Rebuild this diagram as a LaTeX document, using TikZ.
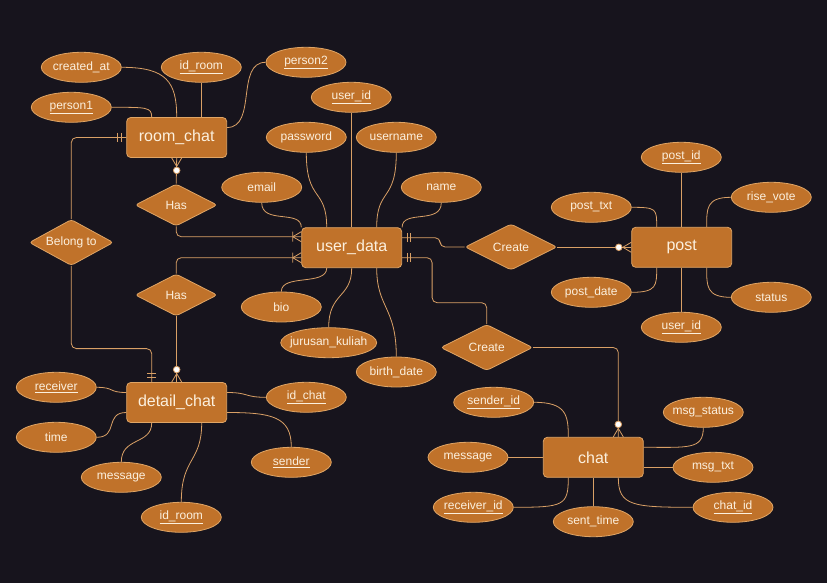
\documentclass[tikz,border=0pt]{standalone}
\usepackage{fontspec}
\setmainfont{Liberation Sans}
\usetikzlibrary{shapes.geometric}
\definecolor{bgc}{HTML}{17141D}
\definecolor{fillc}{HTML}{C0722A}
\definecolor{edgec}{HTML}{E0A565}
\definecolor{linec}{HTML}{D9A066}
\definecolor{txtc}{HTML}{FCF0DE}
\newcommand\zt[1]{\makebox[0pt]{#1}}
\newcommand\uk[1]{\makebox[0pt]{\underline{#1}}}
\begin{document}
\begin{tikzpicture}[x=1pt,y=-1pt,
 entity/.style={rectangle, rounded corners=4pt, draw=edgec, fill=fillc, line width=0.8pt, minimum width=100pt, minimum height=40pt, inner sep=0pt, text=txtc, font=\fontsize{16}{18}\selectfont},
 attr/.style={ellipse, draw=edgec, fill=fillc, line width=0.8pt, minimum width=80pt, minimum height=30pt, inner sep=0pt, text=txtc, font=\fontsize{12}{14}\selectfont},
 relship/.style={diamond, draw=edgec, fill=fillc, line width=0.8pt, minimum width=92pt, minimum height=46pt, inner sep=0pt, rounded corners=3pt, text=txtc, font=\fontsize{12}{14}\selectfont},
 link/.style={draw=linec, line width=0.8pt},
 conn/.style={draw=linec, line width=0.8pt, rounded corners=5pt},
 mone/.pic={\draw[linec,line width=0.8pt] (-5,-4.5)--(-5,4.5) (-8.5,-4.5)--(-8.5,4.5);},
 zmany/.pic={\draw[linec,line width=0.8pt] (-8.5,0)--(0,-5) (-8.5,0)--(0,5);
   \draw[linec,line width=0.8pt,fill=white] (-12.5,0) circle[radius=3.3pt];},
 omany/.pic={\draw[linec,line width=0.8pt] (-8.5,0)--(0,-5) (-8.5,0)--(0,5) (-8.5,-5)--(-8.5,5);},
]
\useasboundingbox (0,0) rectangle (827,583);
\fill[bgc] (0,0) rectangle (827,583);

% entities
\node[entity] (rc) at (176.7,137.5) {room\_chat};
\node[entity] (ud) at (351.7,247.7) {user\_data};
\node[entity] (pt) at (681.7,247.3) {post};
\node[entity] (dc) at (176.7,402.5) {detail\_chat};
\node[entity] (ch) at (593.3,457.3) {chat};

% relationships
\node[relship, minimum width=82pt, minimum height=42pt] (has1) at (176.2,205) {\zt{Has}};
\node[relship, minimum width=82pt, minimum height=42pt] (has2) at (176.2,295) {\zt{Has}};
\node[relship, minimum width=84pt, minimum height=46pt] (bel) at (71.3,242.5) {\zt{Belong to}};
\node[relship] (cr1) at (511,247) {\zt{Create}};
\node[relship] (cr2) at (486.7,347.5) {\zt{Create}};

% room_chat attributes
\node[attr] (ca) at (81.3,67.3) {\zt{created\_at}};
\node[attr] (idr) at (201.3,67.3) {\uk{id\_room}};
\node[attr] (p2) at (306,62.3) {\uk{person2}};
\node[attr] (p1) at (71.3,107.3) {\uk{person1}};

% user_data attributes
\node[attr] (uid) at (351.3,97.3) {\uk{user\_id}};
\node[attr] (pw) at (306.3,137.3) {\zt{password}};
\node[attr] (un) at (396.3,137.3) {\zt{username}};
\node[attr] (em) at (261.7,187.3) {\zt{email}};
\node[attr] (nm) at (441.3,187.3) {\zt{name}};
\node[attr] (bio) at (281.3,307) {\zt{bio}};
\node[attr, minimum width=96pt] (jk) at (328.7,342.7) {\zt{jurusan\_kuliah}};
\node[attr] (bd) at (396.3,372) {\zt{birth\_date}};

% post attributes
\node[attr] (pid) at (681.3,157.3) {\uk{post\_id}};
\node[attr] (rv) at (771.3,197.3) {\zt{rise\_vote}};
\node[attr] (ptx) at (591.3,207.3) {\zt{post\_txt}};
\node[attr] (pd) at (591.3,292.3) {\zt{post\_date}};
\node[attr] (st) at (771.3,297.3) {\zt{status}};
\node[attr] (puid) at (681.3,327.3) {\uk{user\_id}};

% detail_chat attributes
\node[attr] (rcv) at (56.3,387.3) {\uk{receiver}};
\node[attr] (tm) at (56.3,437.3) {\zt{time}};
\node[attr] (dmsg) at (121.3,477.3) {\zt{message}};
\node[attr] (idr2) at (181.3,517.3) {\uk{id\_room}};
\node[attr] (snd) at (291.3,462.3) {\uk{sender}};
\node[attr] (idc) at (306.3,397.3) {\uk{id\_chat}};

% chat attributes
\node[attr] (sid) at (493.7,402.3) {\uk{sender\_id}};
\node[attr] (cmsg) at (468,457.3) {\zt{message}};
\node[attr] (rid) at (473.3,507.3) {\uk{receiver\_id}};
\node[attr] (stm) at (593.3,521.7) {\zt{sent\_time}};
\node[attr] (cid) at (733,507.3) {\uk{chat\_id}};
\node[attr] (mt) at (713,467.3) {\zt{msg\_txt}};
\node[attr] (ms) at (703.3,412.3) {\zt{msg\_status}};

% room_chat links
\draw[link] (ca.east) .. controls +(45,0) and +(0,-35) .. (rc.north);
\draw[link] (idr.south) -- (idr.south |- rc.north);
\draw[link] (p1.east) .. controls +(35,0) and +(0,-10) .. ([xshift=-25pt]rc.north);
\draw[link] (p2.west) .. controls +(-30,0) and +(30,0) .. ([yshift=10pt]rc.east);

% user_data links
\draw[link] (uid.south) -- (uid.south |- ud.north);
\draw[link] (pw.south) .. controls +(0,50) and +(0,-40) .. ([xshift=-25pt]ud.north);
\draw[link] (un.south) .. controls +(0,50) and +(0,-40) .. ([xshift=25pt]ud.north);
\draw[link] (em.south) .. controls +(0,22) and +(0,-18) .. (ud.north west);
\draw[link] (nm.south) .. controls +(0,22) and +(0,-18) .. (ud.north east);
\draw[link] (bio.north) .. controls +(0,-18) and +(0,18) .. ([xshift=-25pt]ud.south);
\draw[link] (jk.north) .. controls +(0,-35) and +(0,30) .. (ud.south);
\draw[link] (bd.north) .. controls +(0,-50) and +(0,40) .. ([xshift=25pt]ud.south);

% post links
\draw[link] (pid.south) -- (pid.south |- pt.north);
\draw[link] (rv.west) .. controls +(-25,0) and +(0,-18) .. ([xshift=25pt]pt.north);
\draw[link] (ptx.east) .. controls +(25,0) and +(0,-18) .. ([xshift=-25pt]pt.north);
\draw[link] (pd.east) .. controls +(25,0) and +(0,18) .. ([xshift=-25pt]pt.south);
\draw[link] (st.west) .. controls +(-25,0) and +(0,18) .. ([xshift=25pt]pt.south);
\draw[link] (puid.north) -- (puid.north |- pt.south);

% detail_chat links
\draw[link] (rcv.east) .. controls +(18,0) and +(-18,0) .. ([yshift=10pt]dc.west);
\draw[link] (tm.east) .. controls +(22,0) and +(-22,0) .. ([yshift=-10pt]dc.west);
\draw[link] (dmsg.north) .. controls +(0,-25) and +(0,22) .. ([xshift=-25pt]dc.south);
\draw[link] (idr2.north) .. controls +(0,-45) and +(0,40) .. ([xshift=25pt]dc.south);
\draw[link] (snd.north) .. controls +(0,-30) and +(45,0) .. ([yshift=-10pt]dc.east);
\draw[link] (idc.west) .. controls +(-22,0) and +(22,0) .. ([yshift=10pt]dc.east);

% chat links
\draw[link] (sid.east) .. controls +(32,0) and +(0,-22) .. ([xshift=-25pt]ch.north);
\draw[link] (cmsg.east) -- (ch.west);
\draw[link] (rid.east) .. controls +(50,0) and +(0,28) .. ([xshift=-25pt]ch.south);
\draw[link] (stm.north) -- (stm.north |- ch.south);
\draw[link] (cid.west) .. controls +(-60,0) and +(0,28) .. ([xshift=25pt]ch.south);
\draw[link] (mt.west) -- (mt.west -| ch.east);
\draw[link] (ms.south) .. controls +(0,22) and +(45,0) .. ([yshift=10pt]ch.east);

% relationship connectors
\draw[conn] (rc.west) -| (bel.north);
\draw[conn] (rc.south) -- (has1.north);
\draw[conn] (has1.south) |- ([yshift=11pt]ud.west);
\draw[conn] ([yshift=-10pt]ud.west) -| (has2.north);
\draw[conn] (has2.south) -- (has2.south |- dc.north);
\draw[conn] (bel.south) -- ++(0,82.7) -| ([xshift=-25pt]dc.north);
\draw[conn] ([yshift=10pt]ud.east) -- ++(38,0) |- (cr1.west);
\draw[conn] (cr1.east) -- (cr1.east -| pt.west);
\draw[conn] ([yshift=-10pt]ud.east) -| ++(30,45) -| (cr2.north);
\draw[conn] (cr2.east) -| ([xshift=25pt]ch.north);

% cardinality markers
\pic at (rc.west) {mone};
\pic[rotate=90] at (rc.south) {zmany};
\pic at ([yshift=11pt]ud.west) {omany};
\pic at ([yshift=-10pt]ud.west) {omany};
\pic[rotate=-90] at (dc.north) {zmany};
\pic[rotate=-90] at ([xshift=-25pt]dc.north) {mone};
\pic[rotate=180] at ([yshift=10pt]ud.east) {mone};
\pic[rotate=180] at ([yshift=-10pt]ud.east) {mone};
\pic at (pt.west) {zmany};
\pic[rotate=-90] at ([xshift=25pt]ch.north) {zmany};
\end{tikzpicture}
\end{document}
